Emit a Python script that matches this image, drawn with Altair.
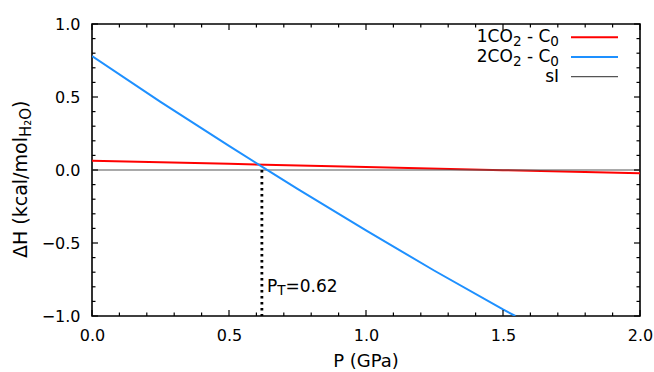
import altair as alt
import pandas as pd

FONT = "DejaVu Sans"

# ---- data ----
P_1CO2 = [0.0, 0.5, 1.0, 1.5, 2.0]
dH_1CO2 = [0.064, 0.042, 0.021, -0.001, -0.023]

P_2CO2 = [0.0, 0.25, 0.5, 0.62, 0.75, 1.0, 1.25, 1.5, 1.545]
dH_2CO2 = [0.78, 0.467, 0.165, 0.023, -0.129, -0.414, -0.69, -0.955, -1.0]

P_sI = [0.0, 2.0]
dH_sI = [0.0, 0.0]

P_T = 0.62
dot_dH = [0.0, -1.0]

# legend labels: (main text, subscript, main text, subscript)
series_labels = [["1CO", "2", "\u00a0-\u00a0C", "0"],
                 ["2CO", "2", "\u00a0-\u00a0C", "0"],
                 ["sI", "", "", ""]]
series_colors = ["#ff0000", "#1e90ff", "#555555"]
series_widths = [2.0, 2.0, 1.2]

x_major = [0.0, 0.5, 1.0, 1.5, 2.0]
y_major = [-1.0, -0.5, 0.0, 0.5, 1.0]
x_minor = [0.1, 0.2, 0.3, 0.4, 0.6, 0.7, 0.8, 0.9, 1.1, 1.2, 1.3, 1.4,
           1.6, 1.7, 1.8, 1.9]
y_minor = [-0.9, -0.8, -0.7, -0.6, -0.4, -0.3, -0.2, -0.1, 0.1, 0.2, 0.3,
           0.4, 0.6, 0.7, 0.8, 0.9]

x_title = "P (GPa)"
y_title_parts = ["\u0394H (kcal/mol", "H\u2082O", ")"]

# ---- layout ----
W, H = 548, 292
X0, X1, Y0, Y1 = 0.0, 2.0, -1.0, 1.0
FS = 17          # main text size
FSUB = 13.6      # subscript size
SUBSHIFT = 4.0   # subscript baseline drop

# DejaVu Sans advance widths (em) for the glyphs used in composed labels
ADV = {"1": 0.636, "2": 0.636, "0": 0.636, "C": 0.698, "O": 0.787,
       "\u00a0": 0.318, "-": 0.361, "s": 0.521, "I": 0.295}


def text_w(s, size):
    return sum(ADV.get(c, 0.6) for c in s) * size


xs = alt.Scale(domain=[X0, X1], nice=False, zero=False)
ys = alt.Scale(domain=[Y0, Y1], nice=False, zero=False)

xaxis = alt.Axis(values=x_major, format=".1f", title=None, grid=False,
                 domain=False, ticks=True, tickSize=0, tickOpacity=0,
                 labelPadding=11, labelFontSize=16, labelFont=FONT,
                 labelColor="black", labelFlush=False)
yaxis = alt.Axis(values=y_major, format=".1f", title=None, grid=False,
                 domain=False, ticks=True, tickSize=0, tickOpacity=0,
                 labelPadding=12, labelFontSize=16, labelFont=FONT,
                 labelColor="black", labelFlush=False)


def X(field):
    return alt.X(field, type="quantitative", scale=xs, axis=xaxis)


def Y(field):
    return alt.Y(field, type="quantitative", scale=ys, axis=yaxis)


layers = []

# series lines
series_data = [(P_1CO2, dH_1CO2), (P_sI, dH_sI), (P_2CO2, dH_2CO2)]
order = [0, 2, 1]
for (P, dH), i in zip(series_data, order):
    df = pd.DataFrame({"P": P, "dH": dH})
    layers.append(
        alt.Chart(df).mark_line(color=series_colors[i],
                                strokeWidth=series_widths[i], clip=True)
        .encode(x=X("P"), y=Y("dH"))
    )

# dotted vertical line at P_T
dot_df = pd.DataFrame({"P": [P_T, P_T], "dH": dot_dH})
layers.append(
    alt.Chart(dot_df).mark_line(color="black", strokeWidth=2.8,
                                strokeDash=[2.6, 3.4])
    .encode(x=X("P"), y=Y("dH"))
)

# inward ticks on all four sides, drawn as short line segments
dy_px = (Y1 - Y0) / H
dx_px = (X1 - X0) / W
tick_rows = []
gid = 0
for vals, ln in [(x_major, 6), (x_minor, 3.5)]:
    for v in vals:
        tick_rows += [{"g": gid, "o": 0, "x": v, "y": Y0},
                      {"g": gid, "o": 1, "x": v, "y": Y0 + ln * dy_px}]
        gid += 1
        tick_rows += [{"g": gid, "o": 0, "x": v, "y": Y1},
                      {"g": gid, "o": 1, "x": v, "y": Y1 - ln * dy_px}]
        gid += 1
for vals, ln in [(y_major, 6), (y_minor, 3.5)]:
    for v in vals:
        tick_rows += [{"g": gid, "o": 0, "x": X0, "y": v},
                      {"g": gid, "o": 1, "x": X0 + ln * dx_px, "y": v}]
        gid += 1
        tick_rows += [{"g": gid, "o": 0, "x": X1, "y": v},
                      {"g": gid, "o": 1, "x": X1 - ln * dx_px, "y": v}]
        gid += 1
tick_df = pd.DataFrame(tick_rows)
layers.append(
    alt.Chart(tick_df).mark_line(color="black", strokeWidth=1.2)
    .encode(x=X("x"), y=Y("y"), detail="g:N", order="o:Q")
)

# P_T label: P, subscript T, =0.62
pt_df = pd.DataFrame({"P": [P_T], "lab": ["=" + f"{P_T:.2f}"]})
layers.append(alt.Chart(pt_df).mark_text(
    text="P", font=FONT, fontSize=FS, align="left", baseline="alphabetic",
    dx=5, color="black").encode(x=X("P"), y=alt.value(268)))
layers.append(alt.Chart(pt_df).mark_text(
    text="T", font=FONT, fontSize=FSUB, align="left", baseline="alphabetic",
    dx=15.3, color="black").encode(x=X("P"), y=alt.value(271.3)))
layers.append(alt.Chart(pt_df).mark_text(
    font=FONT, fontSize=FS, align="left", baseline="alphabetic",
    dx=23.6, color="black").encode(x=X("P"), y=alt.value(268), text="lab:N"))

# legend (text composed right to left, ending at x=467)
ROW = 19.7
for k, (parts, col, wd) in enumerate(zip(series_labels, series_colors,
                                          series_widths)):
    base = 18.3 + ROW * k
    right = 467.0
    pieces = []
    for j in range(3, -1, -1):
        s = parts[j]
        if not s:
            continue
        sub = (j % 2 == 1)
        size = FSUB if sub else FS
        pieces.append((s, right, base + (SUBSHIFT if sub else 0), size))
        right -= text_w(s, size)
    for s, r, yb, size in pieces:
        pdf = pd.DataFrame({"s": [s]})
        layers.append(alt.Chart(pdf).mark_text(
            font=FONT, fontSize=size, align="right", baseline="alphabetic",
            color="black").encode(text="s:N", x=alt.value(r), y=alt.value(yb)))
    sdf = pd.DataFrame({"s": [parts[0]]})
    layers.append(alt.Chart(sdf).mark_rule(color=col, strokeWidth=wd).encode(
        x=alt.value(479), x2=alt.value(526), y=alt.value(13.3 + ROW * k)))

# axis titles (manual, to allow subscripts)
xt = pd.DataFrame({"a": [x_title]})
layers.append(alt.Chart(xt).mark_text(
    font=FONT, fontSize=18, align="center", baseline="alphabetic",
    color="black").encode(text="a:N", x=alt.value(W / 2), y=alt.value(343)))

ydf0 = pd.DataFrame({"a": [y_title_parts[0]]})
ydf1 = pd.DataFrame({"a": [y_title_parts[1]]})
ydf2 = pd.DataFrame({"a": [y_title_parts[2]]})
layers.append(alt.Chart(ydf0).mark_text(
    font=FONT, fontSize=19, align="left", baseline="alphabetic", angle=270,
    color="black").encode(text="a:N", x=alt.value(-65), y=alt.value(234)))
layers.append(alt.Chart(ydf1).mark_text(
    font=FONT, fontSize=15, align="left", baseline="alphabetic", angle=270,
    color="black").encode(text="a:N", x=alt.value(-61), y=alt.value(113)))
layers.append(alt.Chart(ydf2).mark_text(
    font=FONT, fontSize=19, align="left", baseline="alphabetic", angle=270,
    color="black").encode(text="a:N", x=alt.value(-65), y=alt.value(84)))

chart = alt.layer(*layers).properties(
    width=W, height=H, autosize=alt.AutoSizeParams(type="none"),
    padding={"left": 92, "top": 24, "right": 14, "bottom": 56},
    background="white",
).configure_view(stroke="black", strokeWidth=1.6)

chart.save("out.html", embed_options={"renderer": "svg", "actions": False})
